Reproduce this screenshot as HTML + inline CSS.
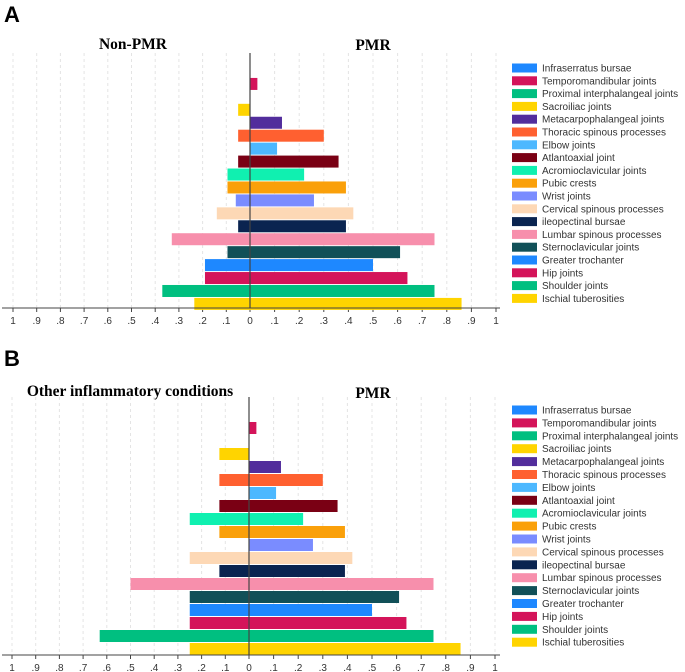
<!DOCTYPE html>
<html><head><meta charset="utf-8"><style>
body{margin:0;background:#fff;width:685px;height:672px;overflow:hidden}
svg{display:block;font-family:"Liberation Sans",sans-serif}
</style></head><body>
<svg id="chart" width="685" height="672">
<text x="4" y="22" font-size="22" font-weight="bold">A</text>
<text x="4" y="366" font-size="22" font-weight="bold">B</text>
<text x="133" y="49" font-size="15.5" font-weight="bold" text-anchor="middle" font-family="Liberation Serif,serif">Non-PMR</text>
<text x="373" y="50" font-size="15.5" font-weight="bold" text-anchor="middle" font-family="Liberation Serif,serif">PMR</text>
<text x="130" y="396" font-size="15.5" font-weight="bold" text-anchor="middle" font-family="Liberation Serif,serif">Other inflammatory conditions</text>
<text x="373" y="398" font-size="15.5" font-weight="bold" text-anchor="middle" font-family="Liberation Serif,serif">PMR</text>
</svg>
<script>
const categories=["Infraserratus bursae","Temporomandibular joints","Proximal interphalangeal joints","Sacroiliac joints","Metacarpophalangeal joints","Thoracic spinous processes","Elbow joints","Atlantoaxial joint","Acromioclavicular joints","Pubic crests","Wrist joints","Cervical spinous processes","ileopectinal bursae","Lumbar spinous processes","Sternoclavicular joints","Greater trochanter","Hip joints","Shoulder joints","Ischial tuberosities"];
const colors=["#1e88ff","#d4145a","#00bf80","#ffd400","#522d9c","#ff6030","#4db8ff","#7a0014","#10f0b0","#faa00a","#7a8cff","#fdd8b5","#0a2450","#f78fac","#115058","#1e88ff","#d4145a","#00bf80","#ffd400"];
const pmrValues=[0,0.03,0,0,0.13,0.30,0.11,0.36,0.22,0.39,0.26,0.42,0.39,0.75,0.61,0.50,0.64,0.75,0.86];
const nonPmrValues=[0,0,0,0.05,0,0.05,0,0.05,0.095,0.095,0.06,0.14,0.05,0.33,0.095,0.19,0.19,0.37,0.235];
const otherValues=[0,0,0,0.125,0,0.125,0,0.125,0.25,0.125,0,0.25,0.125,0.5,0.25,0.25,0.25,0.63,0.25];
const tickLabels=["1",".9",".8",".7",".6",".5",".4",".3",".2",".1","0",".1",".2",".3",".4",".5",".6",".7",".8",".9","1"];
const NS="http://www.w3.org/2000/svg";
const svg=document.getElementById('chart');
function mk(t,a){const e=document.createElementNS(NS,t);for(const k in a)e.setAttribute(k,a[k]);svg.appendChild(e);return e;}
function panel(p,leftVals,key){
  const xL=v=>p.zero-v*p.sl, xR=v=>p.zero+v*p.sr;
  for(let i=0;i<tickLabels.length;i++){
    const v=i<10?(10-i)/10:(i-10)/10;
    const x=i<10?xL(v):xR(v);
    if(i!==10){const g=mk('line',{x1:x,x2:x,y1:p.top,y2:p.axis,stroke:'#e4e4e4','stroke-dasharray':'3,3','stroke-width':1});
    
    }
    const tk=mk('line',{x1:x,x2:x,y1:p.axis,y2:p.axis+4,stroke:'#444'});
    
    
    const t=mk('text',{x:x,y:p.axis+16,'font-size':10,fill:'#333','text-anchor':'middle'});
    t.textContent=tickLabels[i];
    
    
  }
  const band=p.row, bh=12;
  categories.forEach((c,i)=>{
    const y=p.row0+i*band;
    if(leftVals[i]>0){const r=mk('rect',{x:xL(leftVals[i]),y:y,width:leftVals[i]*p.sl,height:bh,fill:colors[i]});
    
    }
    if(pmrValues[i]>0){const r=mk('rect',{x:p.zero,y:y,width:pmrValues[i]*p.sr,height:bh,fill:colors[i]});
    
    }
    const ly=p.leg0+i*p.legStep;
    const s=mk('rect',{x:512,y:ly-4.5,width:25,height:9,fill:colors[i]});
    
    
    const t=mk('text',{x:542,y:ly+3.5,'font-size':10,fill:'#333'});
    t.textContent=c;
    
    
  });
  const ax=mk('line',{x1:2,x2:500,y1:p.axis,y2:p.axis,stroke:'#444','stroke-width':1});
  
  
  const z=mk('line',{x1:p.zero,x2:p.zero,y1:p.top,y2:p.axis,stroke:'#444','stroke-width':1.2});
  
  
}
panel({zero:250,sl:237,sr:246,top:53,axis:308,row0:65,row:12.94,leg0:68,legStep:12.8},nonPmrValues,'panel-a');
panel({zero:249,sl:237,sr:246,top:397,axis:655,row0:409,row:13,leg0:410,legStep:12.9},otherValues,'panel-b');
</script>
</body></html>
